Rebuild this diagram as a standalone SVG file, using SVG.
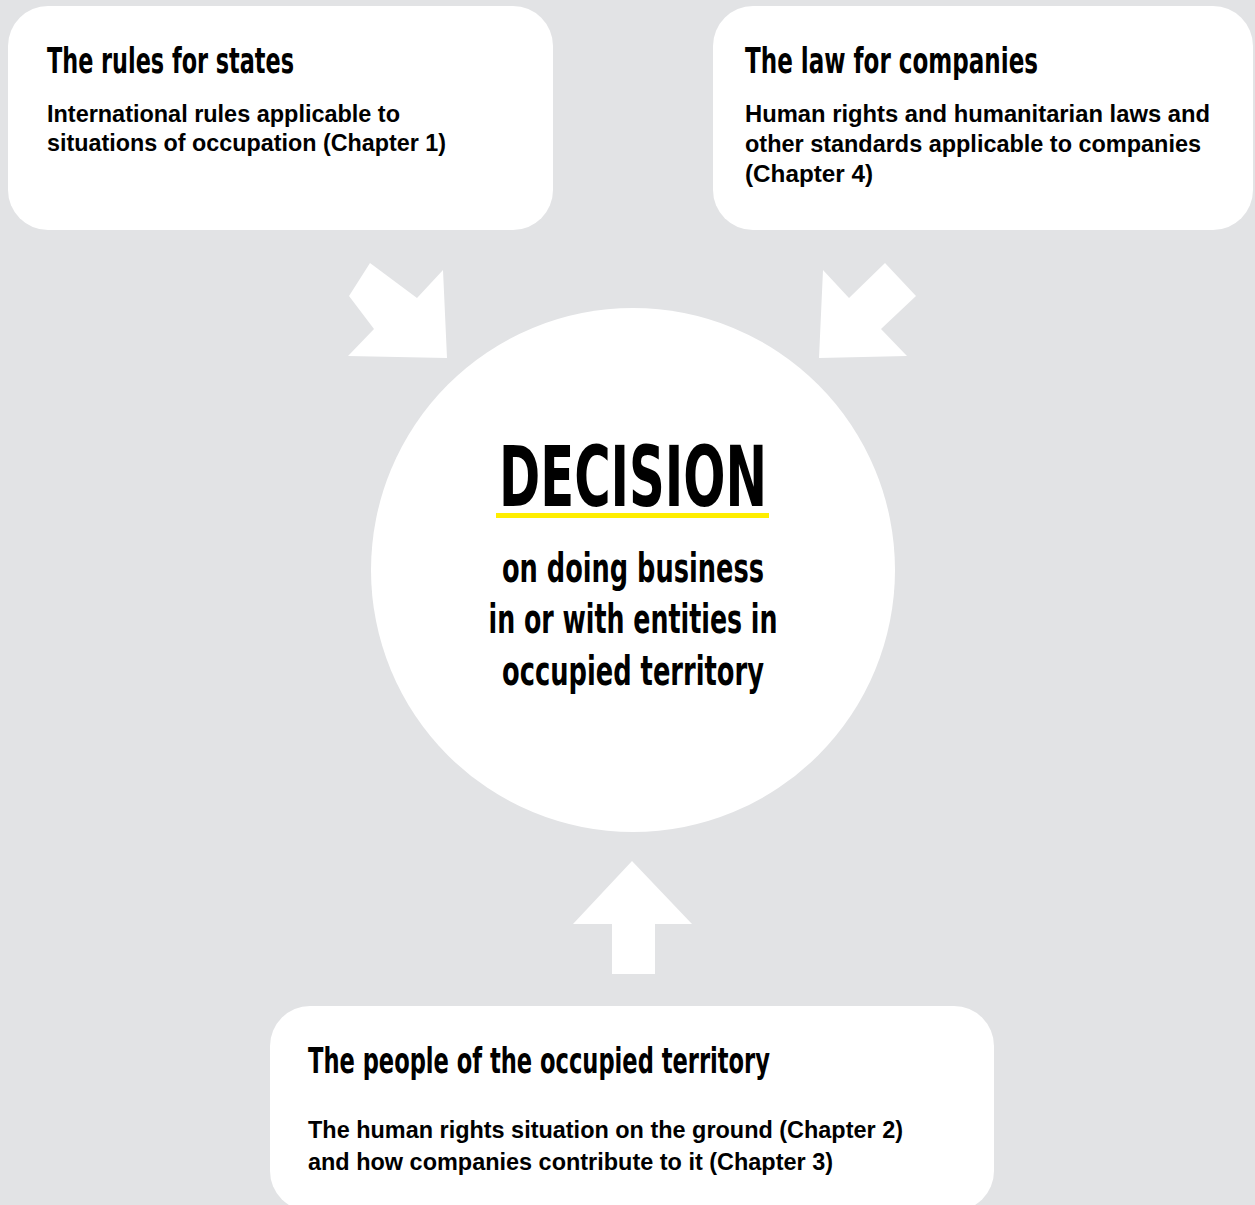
<svg xmlns="http://www.w3.org/2000/svg" width="1255" height="1205" viewBox="0 0 1255 1205">
<style>
.box{fill:#ffffff}
.arrow{fill:#ffffff}
.t{font-family:"Liberation Sans Narrow","DejaVu Sans Condensed","Liberation Sans",Arial,sans-serif;font-weight:bold;fill:#000}
.b{font-family:"Liberation Sans",Arial,sans-serif;font-weight:bold;fill:#000}
.title{font-size:35px}
.body{font-size:23px}
.dec{font-size:84px}
.sub{font-size:40px}
</style>
<rect x="0" y="0" width="1255" height="1205" fill="#e2e3e5"/>
<g id="connectors">
<polygon class="arrow" points="370,263 417,298 443,270 447,358 348,356 374,329 349,296"/>
<polygon class="arrow" points="885,263 849,298 823,270 819,358 907,356 881,329 916,296"/>
<polygon class="arrow" points="632,861 692,924 655,924 655,974 612,974 612,924 573,924"/>
</g>
<g id="node-states">
<rect class="box" x="8" y="6" width="545" height="224" rx="40"/>
<text class="t title" x="47" y="73" textLength="247" lengthAdjust="spacingAndGlyphs">The rules for states</text>
<text class="b body" x="47" y="122" textLength="353" lengthAdjust="spacingAndGlyphs">International rules applicable to</text>
<text class="b body" x="47" y="151" textLength="399" lengthAdjust="spacingAndGlyphs">situations of occupation (Chapter 1)</text>
</g>
<g id="node-companies">
<rect class="box" x="713" y="6" width="540" height="224" rx="40"/>
<text class="t title" x="745" y="73" textLength="293" lengthAdjust="spacingAndGlyphs">The law for companies</text>
<text class="b body" x="745" y="122" textLength="465" lengthAdjust="spacingAndGlyphs">Human rights and humanitarian laws and</text>
<text class="b body" x="745" y="152" textLength="456" lengthAdjust="spacingAndGlyphs">other standards applicable to companies</text>
<text class="b body" x="745" y="182" textLength="128" lengthAdjust="spacingAndGlyphs">(Chapter 4)</text>
</g>
<g id="node-decision">
<circle class="box" cx="633" cy="570" r="262"/>
<text class="t dec" x="633" y="506" text-anchor="middle" textLength="268" lengthAdjust="spacingAndGlyphs">DECISION</text>
<rect x="496" y="513" width="273" height="5" fill="#ffee00"/>
<text class="t sub" x="633" y="582" text-anchor="middle" textLength="262" lengthAdjust="spacingAndGlyphs">on doing business</text>
<text class="t sub" x="633" y="633" text-anchor="middle" textLength="289" lengthAdjust="spacingAndGlyphs">in or with entities in</text>
<text class="t sub" x="633" y="685" text-anchor="middle" textLength="262" lengthAdjust="spacingAndGlyphs">occupied territory</text>
</g>
<g id="node-people">
<rect class="box" x="270" y="1006" width="724" height="205" rx="40"/>
<text class="t title" x="308" y="1073" textLength="462" lengthAdjust="spacingAndGlyphs">The people of the occupied territory</text>
<text class="b body" x="308" y="1138" textLength="595" lengthAdjust="spacingAndGlyphs">The human rights situation on the ground (Chapter 2)</text>
<text class="b body" x="308" y="1170" textLength="525" lengthAdjust="spacingAndGlyphs">and how companies contribute to it (Chapter 3)</text>
</g>
</svg>
